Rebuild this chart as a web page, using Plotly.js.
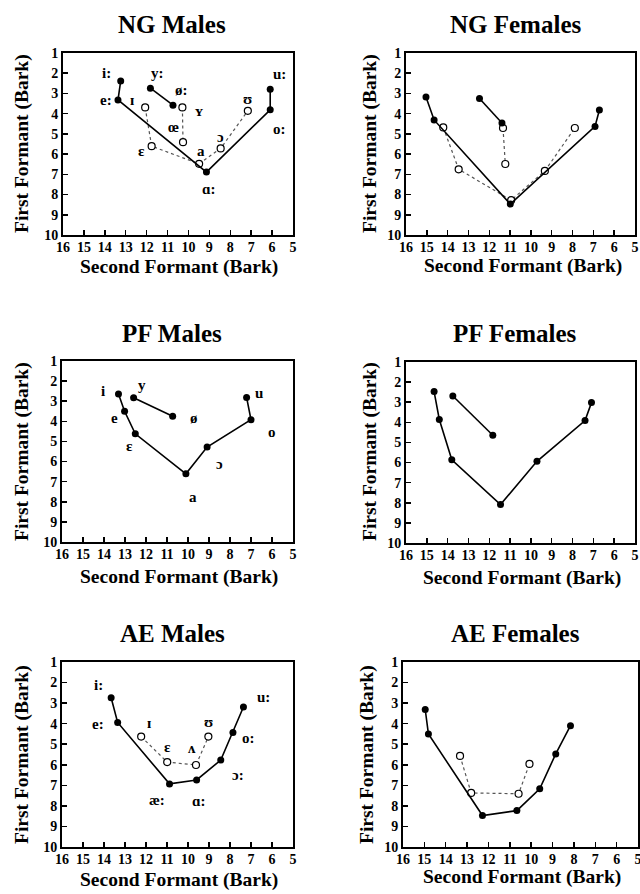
<!DOCTYPE html>
<html>
<head>
<meta charset="utf-8">
<script src="https://cdn.plot.ly/plotly-3.0.1.min.js"></script>
<style>html,body{margin:0;padding:0;background:#fff;}#chart{width:640px;height:894px;}</style>
</head>
<body>
<div id="chart"></div>
<script>
// ---------------- DATA (F2 = second formant, F1 = first formant, Bark) ----------------
// NG Males
const ngM_long_vowels = ["i:", "e:", "ɑ:", "o:", "u:"];
const ngM_long_F2 = [13.24, 13.37, 9.14, 6.09, 6.09];
const ngM_long_F1 = [2.38, 3.32, 6.89, 3.81, 2.79];
const ngM_round_vowels = ["y:", "ø:"];
const ngM_round_F2 = [11.82, 10.74];
const ngM_round_F1 = [2.74, 3.58];
const ngM_short_vowels = ["ɪ", "ɛ", "a", "ɔ", "ʊ"];
const ngM_short_F2 = [12.07, 11.76, 9.49, 8.46, 7.16];
const ngM_short_F1 = [3.69, 5.61, 6.48, 5.72, 3.86];
const ngM_shortRound_vowels = ["ʏ", "œ"];
const ngM_shortRound_F2 = [10.29, 10.26];
const ngM_shortRound_F1 = [3.69, 5.41];

// NG Females
const ngF_long_F2 = [15.04, 14.65, 10.99, 6.92, 6.71];
const ngF_long_F1 = [3.18, 4.31, 8.47, 4.63, 3.82];
const ngF_round_F2 = [12.47, 11.39];
const ngF_round_F1 = [3.25, 4.46];
const ngF_short_F2 = [14.21, 13.47, 10.95, 9.33, 7.89];
const ngF_short_F1 = [4.68, 6.75, 8.28, 6.83, 4.71];
const ngF_shortRound_F2 = [11.34, 11.23];
const ngF_shortRound_F1 = [4.71, 6.49];

// PF Males
const pfM_vowels = ["i", "e", "ɛ", "a", "ɔ", "o", "u"];
const pfM_F2 = [13.31, 13.02, 12.51, 10.10, 9.09, 7.00, 7.21];
const pfM_F1 = [2.64, 3.50, 4.62, 6.61, 5.28, 3.92, 2.81];
const pfM_round_vowels = ["y", "ø"];
const pfM_round_F2 = [12.59, 10.73];
const pfM_round_F1 = [2.83, 3.75];

// PF Females
const pfF_F2 = [14.65, 14.40, 13.80, 11.46, 9.71, 7.40, 7.09];
const pfF_F1 = [2.47, 3.86, 5.86, 8.09, 5.94, 3.91, 3.02];
const pfF_round_F2 = [13.75, 11.83];
const pfF_round_F1 = [2.69, 4.64];

// AE Males
const aeM_long_vowels = ["i:", "e:", "æ:", "ɑ:", "ɔ:", "o:", "u:"];
const aeM_long_F2 = [13.66, 13.35, 10.88, 9.59, 8.44, 7.86, 7.36];
const aeM_long_F1 = [2.74, 3.94, 6.93, 6.74, 5.77, 4.43, 3.19];
const aeM_short_vowels = ["ɪ", "ɛ", "ʌ", "ʊ"];
const aeM_short_F2 = [12.23, 10.99, 9.62, 9.03];
const aeM_short_F1 = [4.63, 5.87, 6.01, 4.63];

// AE Females
const aeF_long_F2 = [14.96, 14.81, 12.28, 10.67, 9.60, 8.85, 8.16];
const aeF_long_F1 = [3.31, 4.50, 8.47, 8.23, 7.17, 5.47, 4.10];
const aeF_short_F2 = [13.33, 12.81, 10.59, 10.08];
const aeF_short_F1 = [5.57, 7.37, 7.41, 5.96];

const panelTitles = ["NG Males", "NG Females", "PF Males", "PF Females", "AE Males", "AE Females"];
const xTickVals = [16, 15, 14, 13, 12, 11, 10, 9, 8, 7, 6, 5];
const yTickVals = [1, 2, 3, 4, 5, 6, 7, 8, 9, 10];
const xTitle = "Second Formant (Bark)";
const yTitle = "First Formant (Bark)";

// ---------------- STYLE / LAYOUT ----------------
const FONT = "Liberation Serif, Times New Roman, serif";
const W = 640, H = 894;
// plot areas in pixels: [left, right, top, bottom]
const boxes = [
  [63, 293, 53, 235],
  [406, 635, 53, 235],
  [62, 293, 361, 542],
  [406, 635, 362, 543],
  [62, 293, 662, 847],
  [403, 638, 662, 847]
];
const titlePos = [[172, 25], [515, 25], [172, 333], [515, 333], [172, 633], [515, 633]];
const xTitlePos = [[179, 267], [523, 266], [179, 577], [522, 578], [179, 880], [522, 877]];
const yTitlePos = [[22, 144], [370, 144], [22, 452], [370, 452], [22, 755], [367, 755]];

function solid(x, y, ax) {
  return {x: x, y: y, xaxis: 'x' + ax, yaxis: 'y' + ax, type: 'scatter', mode: 'lines+markers',
    line: {color: '#000', width: 1.6}, marker: {size: 7, color: '#000'}, hoverinfo: 'x+y'};
}
function hollow(x, y, ax) {
  return {x: x, y: y, xaxis: 'x' + ax, yaxis: 'y' + ax, type: 'scatter', mode: 'lines+markers',
    line: {color: '#555', width: 1.2, dash: 'dot'},
    marker: {size: 7, color: '#fff', line: {color: '#000', width: 1.2}}, hoverinfo: 'x+y'};
}

const traces = [
  hollow(ngM_short_F2, ngM_short_F1, ''), hollow(ngM_shortRound_F2, ngM_shortRound_F1, ''),
  solid(ngM_long_F2, ngM_long_F1, ''), solid(ngM_round_F2, ngM_round_F1, ''),
  hollow(ngF_short_F2, ngF_short_F1, '2'), hollow(ngF_shortRound_F2, ngF_shortRound_F1, '2'),
  solid(ngF_long_F2, ngF_long_F1, '2'), solid(ngF_round_F2, ngF_round_F1, '2'),
  solid(pfM_F2, pfM_F1, '3'), solid(pfM_round_F2, pfM_round_F1, '3'),
  solid(pfF_F2, pfF_F1, '4'), solid(pfF_round_F2, pfF_round_F1, '4'),
  hollow(aeM_short_F2, aeM_short_F1, '5'), solid(aeM_long_F2, aeM_long_F1, '5'),
  hollow(aeF_short_F2, aeF_short_F1, '6'), solid(aeF_long_F2, aeF_long_F1, '6')
];

const layout = {
  width: W, height: H, margin: {l: 0, r: 0, t: 0, b: 0},
  paper_bgcolor: '#fff', plot_bgcolor: '#fff', showlegend: false,
  font: {family: FONT, color: '#000'},
  annotations: []
};

boxes.forEach(function (b, i) {
  const n = i === 0 ? '' : String(i + 1);
  layout['xaxis' + n] = {
    domain: [b[0] / W, b[1] / W], anchor: 'y' + n, range: [16, 5],
    tickmode: 'array', tickvals: xTickVals, ticks: 'inside', ticklen: 5, tickwidth: 1.5, tickcolor: '#000',
    showline: true, mirror: true, linecolor: '#000', linewidth: 2, showgrid: false, zeroline: false,
    ticklabeloverflow: 'allow', ticklabelstandoff: -2,
    tickfont: {family: FONT, size: 14, weight: 'bold', color: '#000'}, fixedrange: true
  };
  layout['yaxis' + n] = {
    domain: [1 - b[3] / H, 1 - b[2] / H], anchor: 'x' + n, range: [10, 1],
    tickmode: 'array', tickvals: yTickVals, ticks: 'inside', ticklen: 5, tickwidth: 1.5, tickcolor: '#000',
    showline: true, mirror: true, ticklabeloverflow: 'allow',
    linecolor: '#000', linewidth: 2, showgrid: false, zeroline: false,
    tickfont: {family: FONT, size: 14, weight: 'bold', color: '#000'}, fixedrange: true
  };
  layout.annotations.push({text: panelTitles[i], xref: 'paper', yref: 'paper',
    x: titlePos[i][0] / W, y: 1 - titlePos[i][1] / H, xanchor: 'center', yanchor: 'middle', showarrow: false,
    font: {family: FONT, size: 25, weight: 'bold', color: '#000'}});
  layout.annotations.push({text: xTitle, xref: 'paper', yref: 'paper',
    x: xTitlePos[i][0] / W, y: 1 - xTitlePos[i][1] / H, xanchor: 'center', yanchor: 'middle', showarrow: false,
    font: {family: FONT, size: 19.5, weight: 'bold', color: '#000'}});
  layout.annotations.push({text: yTitle, xref: 'paper', yref: 'paper', textangle: -90,
    x: yTitlePos[i][0] / W, y: 1 - yTitlePos[i][1] / H, xanchor: 'center', yanchor: 'middle', showarrow: false,
    font: {family: FONT, size: 19.5, weight: 'bold', color: '#000'}});
});

// vowel label offsets (pixels: dx right, dy down) relative to each point
function addLabels(vowels, f2, f1, offsets, ax) {
  vowels.forEach(function (v, k) {
    const o = offsets[k];
    layout.annotations.push({text: v, x: f2[k], y: f1[k], xref: 'x' + ax, yref: 'y' + ax,
      xshift: o[0], yshift: -o[1], showarrow: false, xanchor: 'center', yanchor: 'middle',
      font: {family: FONT, size: 15, weight: 'bold', color: '#000'}});
  });
}
addLabels(ngM_long_vowels, ngM_long_F2, ngM_long_F1, [[-14, -8], [-12, 0], [3, 17], [9, 19], [9, -15]], '');
addLabels(ngM_round_vowels, ngM_round_F2, ngM_round_F1, [[7, -15], [9, -15]], '');
addLabels(ngM_short_vowels, ngM_short_F2, ngM_short_F1, [[-13, -7], [-10, 5], [2, -13], [0, -11], [0, -12]], '');
addLabels(ngM_shortRound_vowels, ngM_shortRound_F2, ngM_shortRound_F1, [[17, 4], [-10, -15]], '');
addLabels(pfM_vowels, pfM_F2, pfM_F1, [[-15, -3], [-10, 7], [-6, 12], [7, 23], [12, 17], [21, 12], [12, -4]], '3');
addLabels(pfM_round_vowels, pfM_round_F2, pfM_round_F1, [[8, -13], [21, 2]], '3');
addLabels(aeM_long_vowels, aeM_long_F2, aeM_long_F1, [[-13, -13], [-20, 2], [-13, 16], [2, 21], [17, 15], [16, 5], [20, -10]], '5');
addLabels(aeM_short_vowels, aeM_short_F2, aeM_short_F1, [[8, -14], [0, -15], [-4, -17], [0, -15]], '5');

Plotly.newPlot('chart', traces, layout, {staticPlot: true, displayModeBar: false});
</script>
</body>
</html>
